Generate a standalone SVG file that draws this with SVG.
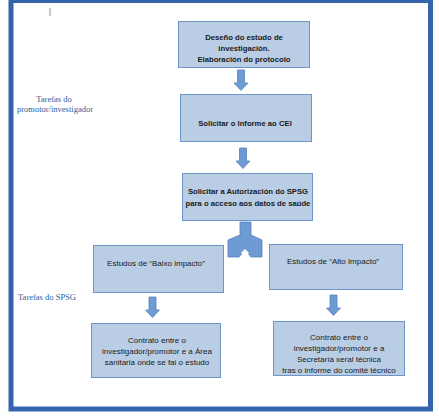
<svg xmlns="http://www.w3.org/2000/svg" xmlns:xlink="http://www.w3.org/1999/xlink" width="439" height="418" viewBox="0 0 439 418">
<style>
.box{fill:#B9CDE5;stroke:#6F94C6;stroke-width:1}
.arr{fill:#6E9BD3;stroke:#5582BD;stroke-width:0.8}
.bt{font-family:"Liberation Sans",Arial,sans-serif;font-size:7.7px;font-weight:bold;fill:#1a1a1a;text-anchor:middle}
.rt{font-family:"Liberation Sans",Arial,sans-serif;font-size:8px;fill:#1a1a1a;text-anchor:middle}
.lab{font-family:"Liberation Serif","Times New Roman",serif;font-size:8.5px;fill:#2E5C9E;text-anchor:middle}
</style>
<defs>
<path id="darrow" d="M-3.5,0 L3.5,0 L3.5,13 L7,13 L0,20.5 L-7,13 L-3.5,13 Z"/>
</defs>
<rect x="0" y="0" width="439" height="418" fill="#ffffff"/>
<rect id="frame" x="11" y="0.5" width="419.5" height="408.5" fill="none" stroke="#3464AC" stroke-width="5"/>
<line x1="50" y1="8" x2="50" y2="16" stroke="#777" stroke-width="0.8"/>
<g id="label-promotor">
<text class="lab" x="54" y="102">Tarefas do</text>
<text class="lab" x="55" y="112">promotor/investigador</text>
</g>
<g id="label-spsg">
<text class="lab" x="47" y="300">Tarefas do SPSG</text>
</g>
<g id="n1">
<rect class="box" x="178.5" y="21.5" width="131" height="46"/>
<text class="bt" x="244" y="39.5">Deseño do estudo de</text>
<text class="bt" x="244" y="50.5">investigación.</text>
<text class="bt" x="244" y="61.5">Elaboración do protocolo</text>
</g>
<g id="n2">
<rect class="box" x="180.5" y="94.5" width="131" height="47"/>
<text class="bt" x="245" y="125.5">Solicitar o Informe ao CEI</text>
</g>
<g id="n3">
<rect class="box" x="182.5" y="173.5" width="130" height="47"/>
<text class="bt" x="248" y="193.5">Solicitar a Autorización do SPSG</text>
<text class="bt" x="248" y="205.5">para o acceso aos datos de saúde</text>
</g>
<g id="n4">
<rect class="box" x="93.5" y="245.5" width="130" height="47"/>
<text class="rt" x="156" y="265.5">Estudos de “Baixo impacto”</text>
</g>
<g id="n5">
<rect class="box" x="269.5" y="244.5" width="133" height="45"/>
<text class="rt" x="333" y="263.5">Estudos de “Alto Impacto”</text>
</g>
<g id="n6">
<rect class="box" x="91.5" y="323.5" width="129" height="54"/>
<text class="rt" x="157" y="342.5">Contrato entre o</text>
<text class="rt" x="157" y="354">investigador/promotor e a Área</text>
<text class="rt" x="157" y="364.5">sanitaria onde se fai o estudo</text>
</g>
<g id="n7">
<rect class="box" x="273.5" y="321.5" width="131" height="54"/>
<text class="rt" x="339" y="339.5">Contrato entre o</text>
<text class="rt" x="339" y="351">investigador/promotor e a</text>
<text class="rt" x="339" y="362">Secretaría xeral técnica</text>
<text class="rt" x="339" y="373">tras o informe do comité técnico</text>
</g>
<g id="connectors">
<use xlink:href="#darrow" class="arr" transform="translate(241,70)"/>
<use xlink:href="#darrow" class="arr" transform="translate(243,148)"/>
<path class="arr" d="M240,222 L251,222 L251,235 L262,240 L262,257 L251,257 L245,250 L239,257 L228,257 L228,240 L240,235 Z"/>
<path d="M245,249 L249,253 L245,257 L241,253 Z" fill="#ffffff"/>
<use xlink:href="#darrow" class="arr" transform="translate(152.5,297)"/>
<use xlink:href="#darrow" class="arr" transform="translate(333.5,295)"/>
</g>
</svg>
